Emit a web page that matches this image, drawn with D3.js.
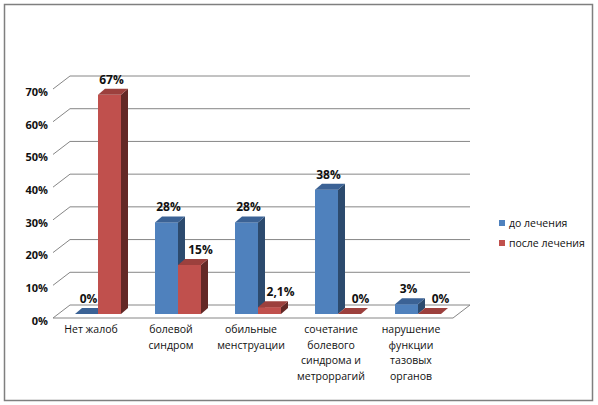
<!DOCTYPE html>
<html>
<head>
<meta charset="utf-8">
<script src="https://cdn.jsdelivr.net/npm/d3@7"></script>
<style>
  body { margin: 0; background: #fff; }
  svg { font-family: "Open Sans", sans-serif; }
</style>
</head>
<body>
<svg width="598" height="405"></svg>
<script>
// data
const categories = [
    ["Нет жалоб"],
    ["болевой", "синдром"],
    ["обильные", "менструации"],
    ["сочетание", "болевого", "синдрома и", "метроррагий"],
    ["нарушение", "функции", "тазовых", "органов"]
];
const seriesNames = ["до лечения", "после лечения"];
const beforeValues = [0, 28, 28, 38, 3];
const afterValues = [67, 15, 2.1, 0, 0];
const yTicks = [0, 10, 20, 30, 40, 50, 60, 70];

const colors = [
    { front: "#4f81bd", side: "#2c4a6e", top: "#3b6295" },
    { front: "#c0504d", side: "#632826", top: "#9c403d" }
];

function drawChart() {
    const svg = d3.select('svg');

    // frame
    svg.append('rect')
        .attr('x', 4.5).attr('y', 4.5)
        .attr('width', 588).attr('height', 396)
        .attr('fill', 'none')
        .attr('stroke', '#7f7f7f')
        .attr('stroke-width', 1.5);

    const left = 53, right = 453, bottom = 318;
    const ddx = 17, ddy = -13;     // floor depth
    const bdx = 5, bdy = -4;       // bar placement inside depth
    const barDx = 7, barDy = -6;   // bar own depth
    const barW = 23;

    const yScale = d3.scaleLinear()
        .domain([0, 70])
        .range([bottom, 89]);

    const keys = categories.map((c, i) => i);
    const xScale = d3.scaleBand()
        .domain(keys)
        .range([left, right]);
    const xInner = d3.scaleBand()
        .domain([0, 1])
        .range([0, barW * 2]);

    const grid = svg.append('g')
        .attr('stroke', '#868686')
        .attr('stroke-width', 1)
        .attr('fill', 'none');

    // back wall grid lines and left wall diagonals
    yTicks.forEach(t => {
        const y = yScale(t);
        grid.append('line')
            .attr('x1', left + ddx).attr('y1', y + ddy)
            .attr('x2', right + ddx).attr('y2', y + ddy);
        grid.append('line')
            .attr('x1', left).attr('y1', y)
            .attr('x2', left + ddx).attr('y2', y + ddy);
    });
    // floor front edge and right edge
    grid.append('line')
        .attr('x1', left).attr('y1', bottom)
        .attr('x2', right).attr('y2', bottom);
    grid.append('line')
        .attr('x1', right).attr('y1', bottom)
        .attr('x2', right + ddx).attr('y2', bottom + ddy);

    // y axis labels
    svg.append('g')
        .selectAll('text')
        .data(yTicks)
        .enter()
        .append('text')
        .attr('x', 48)
        .attr('y', d => yScale(d) + 3)
        .attr('dy', '0.35em')
        .attr('text-anchor', 'end')
        .attr('font-size', 11)
        .attr('font-weight', 'bold')
        .attr('fill', '#111')
        .text(d => d + '%');

    // bars
    const allSeries = [beforeValues, afterValues];
    const bars = [];
    keys.forEach(i => {
        allSeries.forEach((vals, s) => {
            bars.push({ cat: i, s: s, v: vals[i] });
        });
    });

    const barX = d => xScale(d.cat) + (xScale.bandwidth() - barW * 2) / 2 + xInner(d.s) + bdx;
    const base = yScale(0) + bdy;
    const barTop = d => yScale(d.v) + bdy;

    const g = svg.append('g')
        .selectAll('g')
        .data(bars)
        .enter()
        .append('g');

    // front face
    g.append('rect')
        .attr('x', barX)
        .attr('y', barTop)
        .attr('width', barW)
        .attr('height', d => base - barTop(d))
        .attr('fill', d => colors[d.s].front);
    // side face
    g.append('path')
        .attr('d', d => {
            const x = barX(d) + barW, y0 = barTop(d);
            return `M${x},${y0}L${x + barDx},${y0 + barDy}L${x + barDx},${base + barDy}L${x},${base}Z`;
        })
        .attr('fill', d => colors[d.s].side);
    // top face
    g.append('path')
        .attr('d', d => {
            const x = barX(d), y0 = barTop(d);
            return `M${x},${y0}L${x + barW},${y0}L${x + barW + barDx},${y0 + barDy}L${x + barDx},${y0 + barDy}Z`;
        })
        .attr('fill', d => colors[d.s].top);

    // value labels (pushed right when the neighbouring blue bar is taller)
    const labelShift = d => {
        if (d.s === 1 && beforeValues[d.cat] > afterValues[d.cat]) return 11;
        return 2;
    };
    g.append('text')
        .attr('x', d => barX(d) + barW / 2 + labelShift(d))
        .attr('y', d => barTop(d) - 11)
        .attr('text-anchor', 'middle')
        .attr('font-size', 12)
        .attr('font-weight', 'bold')
        .attr('fill', '#111')
        .text(d => String(d.v).replace('.', ',') + '%');

    // category labels
    const cats = svg.append('g')
        .selectAll('text')
        .data(keys)
        .enter()
        .append('text')
        .attr('x', d => xScale(d) + xScale.bandwidth() / 2 - 2)
        .attr('y', 333)
        .attr('text-anchor', 'middle')
        .attr('font-size', 10.5)
        .attr('fill', '#111');
    cats.selectAll('tspan')
        .data(d => categories[d])
        .enter()
        .append('tspan')
        .attr('x', function () { return d3.select(this.parentNode).attr('x'); })
        .attr('dy', (d, i) => i === 0 ? 0 : 15.5)
        .text(d => d);

    // legend
    const legend = svg.append('g')
        .selectAll('g')
        .data(seriesNames)
        .enter()
        .append('g')
        .attr('transform', (d, i) => `translate(499, ${220 + i * 20})`);
    legend.append('rect')
        .attr('width', 6).attr('height', 6)
        .attr('fill', (d, i) => colors[i].front);
    legend.append('text')
        .attr('x', 10)
        .attr('y', 3)
        .attr('dy', '0.35em')
        .attr('font-size', 10.5)
        .attr('fill', '#111')
        .text(d => d);
}

drawChart();
</script>
</body>
</html>
